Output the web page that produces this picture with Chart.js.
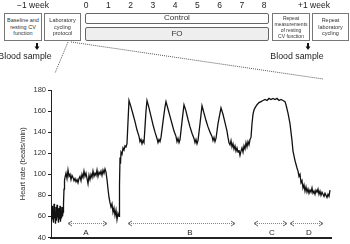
<!DOCTYPE html>
<html>
<head>
<meta charset="utf-8">
<script src="https://cdn.jsdelivr.net/npm/chart.js@4.4.0/dist/chart.umd.min.js"></script>
<style>
  body { margin: 0; background: #fff; }
  #wrap { position: relative; width: 350px; height: 244px; font-family: "Liberation Sans", Arial, sans-serif; color: #222; overflow: hidden; }
  #chart { position: absolute; left: 0; top: 0; }
  .t { position: absolute; transform: translate(-50%, -50%); white-space: nowrap; line-height: 1; }
  .box { position: absolute; box-sizing: border-box; border: 1px solid #777; background: #fff;
         display: flex; align-items: center; justify-content: center; text-align: center;
         font-size: 5.5px; line-height: 6.6px; color: #333; }
  #svg { position: absolute; left: 0; top: 0; }
</style>
</head>
<body>
<div id="wrap">
  <canvas id="chart" width="350" height="244"></canvas>
  <svg id="svg" width="350" height="244"></svg>
  <div class="t" style="left:33px;top:5px;font-size:8.5px">−1 week</div>
  <div id="weeks"></div>
  <div class="t" style="left:314px;top:5px;font-size:8.5px">+1 week</div>
  <div class="box" style="left:4px;top:13px;width:38px;height:28px">Baseline and<br>resting CV<br>function</div>
  <div class="box" style="left:44px;top:13px;width:37px;height:28px">Laboratory<br>cycling<br>protocol</div>
  <div class="box" style="left:85px;top:13px;width:184px;height:11px;border-radius:2px;border-color:#666;font-size:8px">Control</div>
  <div class="box" style="left:85px;top:27px;width:184px;height:14px;border-radius:2px;border-color:#666;font-size:8px;background-color:#eee;background-image:radial-gradient(#aaa 0.6px, transparent 0.7px);background-size:2px 2px">FO</div>
  <div class="box" style="left:272px;top:13px;width:38px;height:28px;font-size:5px;line-height:6px">Repeat<br>measurements<br>of resting<br>CV function</div>
  <div class="box" style="left:312px;top:13px;width:37px;height:28px">Repeat<br>laboratory<br>cycling</div>
  <div class="t" style="left:25px;top:56px;font-size:8.8px">Blood sample</div>
  <div class="t" style="left:297px;top:56px;font-size:8.8px">Blood sample</div>
</div>
<script>
// study timeline (weeks)
const weekLabels = ["0", "1", "2", "3", "4", "5", "6", "7", "8"];

// heart rate trace: time (arbitrary units) and beats/min
const time = [
  0,0.5,1,1.5,2,2.5,3,3.5,4,4.5,5,5.5,6,6.5,7,7.5,8,8.5,9,9.5,10,10.5,11,11.5,12,
  12.5,13,13.5,14,
  15,16,17,18,19,20,21,22,23,24,25,26,27,28,29,30,31,32,33,34,35,36,37,38,39,40,
  41,42,43,44,45,46,47,48,49,50,51,52,53,54,55,
  56,57,58,59,60,61,62,63,64,65,66,67,68,
  68.5,69,69.5,70,71,72,73,74,75,76,77,78,
  80,82,84,86,88,89,90,91,92,93,94,95,96,
  98,100,102,104,106,107,108,109,110,112,114,115,
  117,119,121,123,125,126,127,128,129,131,133,
  135,137,139,141,143,144,145,146,147,149,151,
  153,155,157,159,161,162,163,164,165,167,170,
  172,174,176,177,178,179,180,181,182,183,184,185,186,187,188,189,190,191,192,193,194,195,196,197,198,199,200,
  201,202,203,204,206,208,210,212,214,216,218,220,222,224,226,228,230,232,234,
  235,237,239,241,242,244,246,247,248,249,250,251,252,253,254,255,256,257,258,259,260,
  261,262,263,264,265,266,267,268,269,270,271,272,273,274,275,276,277,278,279
];
const heartRate = [
  63,55,70,57,66,54,72,58,64,53,69,56,71,59,62,54,68,57,70,55,65,58,69,60,64,
  72,86,94,97,
  101,96,104,98,100,95,99,97,94,96,93,95,92,96,98,94,100,97,103,98,101,96,91,99,95,100,
  97,103,98,101,99,104,98,102,100,103,99,104,101,105,102,
  95,86,78,73,69,72,64,68,61,66,57,63,60,
  90,116,110,121,119,125,123,127,126,129,150,170,
  164,157,150,142,136,131,133,129,132,130,145,160,170,
  163,155,147,140,134,130,133,131,135,150,164,169,
  162,155,148,141,136,131,134,130,133,150,166,
  160,152,145,139,134,130,133,129,132,148,165,
  158,151,145,140,136,132,135,131,134,148,163,
  157,149,141,135,130,128,132,126,129,124,127,122,125,121,123,118,122,125,121,127,124,130,126,131,128,133,135,
  148,157,161,163,166,168,169,170,171,170,172,171,172,171,172,170,171,170,169,
  166,158,148,132,122,113,106,103,98,100,92,94,87,90,84,88,83,86,82,85,83,
  87,82,84,81,85,83,86,81,84,80,83,81,79,82,80,78,81,79,85
];

// phase annotations
const phaseNames = ["A", "B", "C", "D"];
const phaseStart = [17, 77, 203, 239];
const phaseEnd = [56, 184, 236, 272];
const phaseLabelAt = [35, 139, 221, 258];
const arrowLevel = 54;
const labelLevel = 44;

const yTicks = [40, 60, 80, 100, 120, 140, 160, 180];

// week numbers along the top
const weeks = document.getElementById("weeks");
weekLabels.forEach((w, i) => {
  const d = document.createElement("div");
  d.className = "t";
  d.style.left = (86 + 22.25 * i) + "px";
  d.style.top = "5px";
  d.style.fontSize = "8.5px";
  d.textContent = w;
  weeks.appendChild(d);
});

// connecting lines and blood sample arrows
const svg = document.getElementById("svg");
svg.innerHTML = `
  <line x1="68" y1="42" x2="55" y2="73" stroke="#555" stroke-width="1" stroke-dasharray="1,1"/>
  <line x1="71" y1="42" x2="323" y2="79" stroke="#555" stroke-width="1" stroke-dasharray="1,1"/>
  <rect x="36" y="43" width="2" height="4" fill="#111"/>
  <polygon points="34.5,46.5 39.5,46.5 37,50" fill="#111"/>
  <rect x="307" y="43" width="2" height="4" fill="#111"/>
  <polygon points="305.5,46.5 310.5,46.5 308,50" fill="#111"/>
`;

const phasePlugin = {
  id: "phases",
  afterDatasetsDraw(chart) {
    const { ctx, scales: { x, y } } = chart;
    const yy = Math.round(y.getPixelForValue(arrowLevel)) + 0.5;
    const ly = y.getPixelForValue(labelLevel);
    ctx.save();
    phaseNames.forEach((name, i) => {
      const x0 = x.getPixelForValue(phaseStart[i]);
      const x1 = x.getPixelForValue(phaseEnd[i]);
      ctx.strokeStyle = "#888";
      ctx.lineWidth = 1;
      ctx.setLineDash([1, 1]);
      ctx.beginPath();
      ctx.moveTo(x0 + 1, yy);
      ctx.lineTo(x1 - 1, yy);
      ctx.stroke();
      ctx.setLineDash([]);
      ctx.strokeStyle = "#666";
      ctx.beginPath();
      ctx.moveTo(x0 + 4, yy - 2.5);
      ctx.lineTo(x0, yy);
      ctx.lineTo(x0 + 4, yy + 2.5);
      ctx.moveTo(x1 - 4, yy - 2.5);
      ctx.lineTo(x1, yy);
      ctx.lineTo(x1 - 4, yy + 2.5);
      ctx.stroke();
      ctx.fillStyle = "#222";
      ctx.font = "8px 'Liberation Sans', Arial, sans-serif";
      ctx.textAlign = "center";
      ctx.textBaseline = "middle";
      ctx.fillText(name, x.getPixelForValue(phaseLabelAt[i]), ly);
    });
    ctx.restore();
  }
};

new Chart(document.getElementById("chart"), {
  type: "line",
  data: {
    datasets: [{
      data: time.map((t, i) => ({ x: t, y: heartRate[i] })),
      borderColor: "#111",
      borderWidth: 1.3,
      pointRadius: 0,
      tension: 0
    }]
  },
  options: {
    responsive: false,
    animation: false,
    devicePixelRatio: 1,
    layout: { padding: { left: 0, top: 90, right: 19, bottom: 3 } },
    plugins: { legend: { display: false }, tooltip: { enabled: false } },
    scales: {
      x: {
        type: "linear",
        min: 0,
        max: 280,
        ticks: { display: false },
        grid: { display: false },
        border: { display: true, color: "#222", width: 2 },
        afterFit: s => { s.height = 0; }
      },
      y: {
        min: 40,
        max: 180,
        afterBuildTicks: s => { s.ticks = yTicks.map(v => ({ value: v })); },
        ticks: { color: "#333", font: { size: 7.5, family: "'Liberation Sans', Arial, sans-serif" }, padding: 2 },
        grid: { drawOnChartArea: false, drawTicks: true, tickLength: 3, color: "#222" },
        border: { display: true, color: "#222", width: 1 },
        title: {
          display: true,
          text: "Heart rate (beats/min)",
          color: "#333",
          font: { size: 7.5, family: "'Liberation Sans', Arial, sans-serif" },
          padding: { top: 18, bottom: 0 }
        },
        afterFit: s => { s.width = 51; }
      }
    }
  },
  plugins: [phasePlugin]
});
</script>
</body>
</html>
